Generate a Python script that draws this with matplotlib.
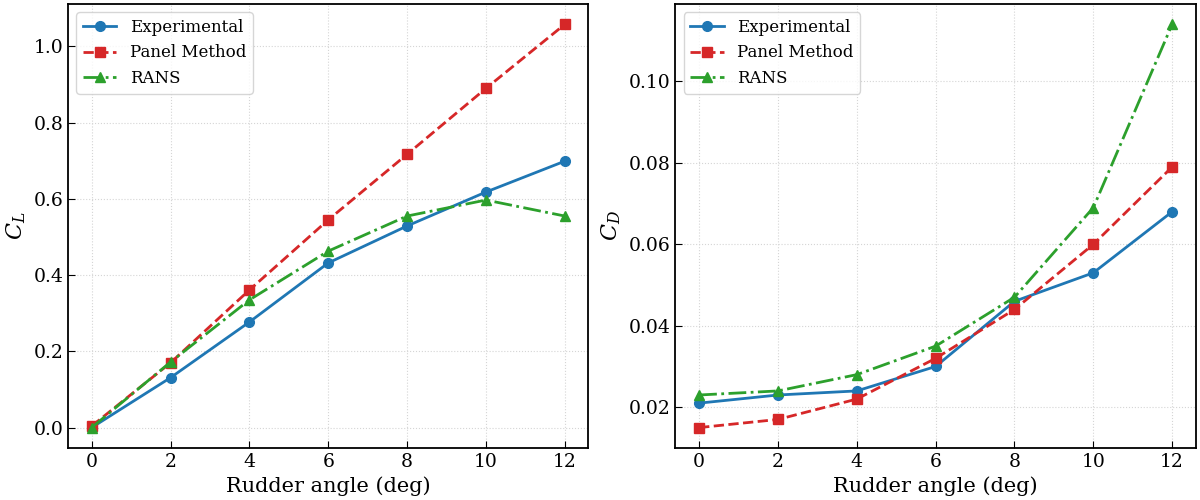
import matplotlib
matplotlib.use("Agg")
import matplotlib.pyplot as plt

plt.rcParams['font.family'] = ['DejaVu Serif']
plt.rcParams['mathtext.fontset'] = 'dejavuserif'

angles = [0, 2, 4, 6, 8, 10, 12]
cl_exp = [0.0, 0.131, 0.277, 0.432, 0.529, 0.618, 0.699]
cl_panel = [0.004, 0.170, 0.361, 0.545, 0.717, 0.890, 1.058]
cl_rans = [0.0, 0.172, 0.335, 0.463, 0.555, 0.597, 0.555]
cd_exp = [0.021, 0.023, 0.024, 0.030, 0.046, 0.053, 0.068]
cd_panel = [0.015, 0.017, 0.022, 0.032, 0.044, 0.060, 0.079]
cd_rans = [0.023, 0.024, 0.028, 0.035, 0.047, 0.069, 0.114]

fig, axes = plt.subplots(1, 2, figsize=(12, 5), dpi=100)

def draw(ax, exp, panel, rans, ylabel):
    ax.plot(angles, exp, '-o', color='#1f77b4', lw=2, ms=7, label='Experimental')
    ax.plot(angles, panel, '--s', color='#d62728', lw=2, ms=7, label='Panel Method')
    ax.plot(angles, rans, '-.^', color='#2ca02c', lw=2, ms=7, label='RANS')
    ax.set_xlabel('Rudder angle (deg)', fontsize=15)
    ax.set_ylabel(ylabel, fontsize=16)
    ax.set_xticks(angles)
    ax.tick_params(direction='in', labelsize=13.5, length=5)
    ax.grid(True, linestyle=':', color='#d5d5d5', lw=0.8)
    for s in ax.spines.values():
        s.set_linewidth(1.3)
    ax.legend(loc='upper left', fontsize=12)

draw(axes[0], cl_exp, cl_panel, cl_rans, r'$C_L$')
draw(axes[1], cd_exp, cd_panel, cd_rans, r'$C_D$')

fig.tight_layout(pad=0.3, w_pad=0.8)
fig.savefig('out.png')
